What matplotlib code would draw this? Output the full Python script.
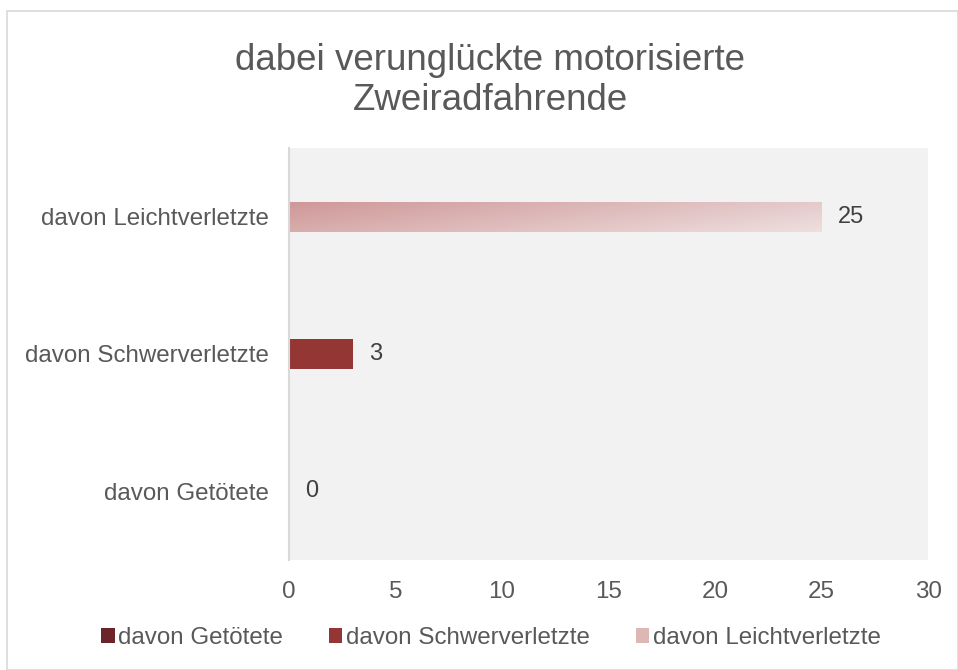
import numpy as np
import matplotlib.pyplot as plt
from matplotlib.patches import Rectangle, Patch
from matplotlib.colors import LinearSegmentedColormap

plt.rcParams['font.family'] = ['Liberation Sans', 'DejaVu Sans']

categories = ["davon Getötete", "davon Schwerverletzte", "davon Leichtverletzte"]
values = [0, 3, 25]
colors = ["#6B2427", "#943634", "#DDB6B6"]
x_ticks = [0, 5, 10, 15, 20, 25, 30]
title_lines = ["dabei verunglückte motorisierte", "Zweiradfahrende"]

fig = plt.figure(figsize=(9.58, 6.70), dpi=100)
fig.patches.append(Rectangle((7 / 958, 0), 1 - 7 / 958, 1 - 11 / 670,
                             transform=fig.transFigure, fill=False,
                             edgecolor="#D9D9D9", linewidth=1.2))

ax = fig.add_axes([289 / 958, 110 / 670, 639 / 958, 412 / 670])
ax.set_facecolor("#F2F2F2")

y = np.arange(len(categories))
bar_h = 0.22
bars = ax.barh(y, values, height=bar_h, color=colors)

# gradient fill for the light bar
grad_cmap = LinearSegmentedColormap.from_list("g", ["#CF9797", "#EEDFDF"])
xx, yy = np.meshgrid(np.linspace(0, 1, 200), np.linspace(0, 1, 50))
grad = 0.7 * xx + 0.3 * (1 - yy)
light = bars[2]
light.set_facecolor("none")
im = ax.imshow(grad, cmap=grad_cmap, aspect="auto", zorder=2,
               extent=[0, values[2], y[2] - bar_h / 2, y[2] + bar_h / 2],
               origin="lower", interpolation="bilinear")
im.set_clip_path(light)

for yi, v in zip(y, values):
    ax.text(v + 0.75, yi, str(v), va="center", ha="left",
            fontsize=17, color="#404040")

ax.set_xlim(0, 30)
ax.set_ylim(-0.5, 2.5)
ax.set_xticks(x_ticks)
ax.set_yticks(y)
ax.set_yticklabels(categories)
ax.tick_params(axis="both", length=0, labelsize=17.4, labelcolor="#595959")
ax.tick_params(axis="x", pad=15)
ax.tick_params(axis="y", pad=14.5)
for s in ["top", "right", "bottom"]:
    ax.spines[s].set_visible(False)
ax.spines["left"].set_color("#D9D9D9")
ax.spines["left"].set_linewidth(1.5)

fig.text(490 / 958, 1 - 60 / 670, title_lines[0],
         ha="center", va="center", fontsize=26.5, color="#595959")
fig.text(490 / 958, 1 - 101 / 670, title_lines[1],
         ha="center", va="center", fontsize=26.5, color="#595959")

handles = [Patch(facecolor=colors[0]), Patch(facecolor=colors[1]),
           Patch(facecolor=colors[2])]
fig.legend(handles, categories, loc="center", bbox_to_anchor=(491 / 958, 1 - 638 / 670),
           ncol=3, frameon=False, fontsize=17.4, handlelength=0.55,
           handleheight=0.55, handletextpad=0.15, columnspacing=1.9,
           labelcolor="#595959")

fig.savefig("out.png", dpi=100)
